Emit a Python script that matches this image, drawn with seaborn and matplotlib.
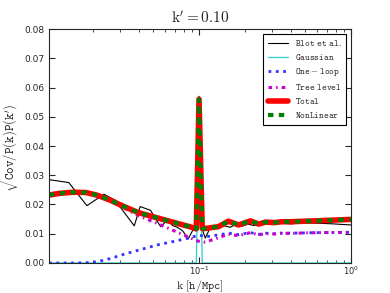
import seaborn as sns
import pandas as pd
import matplotlib.pyplot as plt
from matplotlib.ticker import FuncFormatter
import math

# data
k_model = [0.0103, 0.012, 0.0149, 0.018, 0.0213, 0.026, 0.0321, 0.04, 0.0534, 0.07,
           0.0885, 0.092, 0.096, 0.1, 0.105, 0.11, 0.12, 0.134, 0.156, 0.182,
           0.218, 0.247, 0.275, 0.31, 0.35, 0.4, 0.5, 0.65, 0.8, 1.0]
total = [0.0232, 0.0238, 0.0242, 0.0241, 0.0232, 0.0215, 0.0193, 0.0172, 0.0154, 0.0137,
         0.0123, 0.0120, 0.0117, 0.056, 0.0118, 0.0118, 0.0121, 0.0124, 0.0143, 0.0130,
         0.0144, 0.0133, 0.0140, 0.0138, 0.0141, 0.0141, 0.0143, 0.0145, 0.0147, 0.0149]
tree = [0.0232, 0.0238, 0.0242, 0.0241, 0.0231, 0.0212, 0.0188, 0.0162, 0.0135, 0.0108,
        0.0085, 0.0081, 0.0077, 0.0074, 0.0072, 0.0071, 0.0078, 0.0086, 0.0099, 0.0093,
        0.0104, 0.0096, 0.0101, 0.0099, 0.0102, 0.0101, 0.0103, 0.0104, 0.0104, 0.0105]
one_loop = [0.0, 0.0, 0.0, 0.0001, 0.0004, 0.0015, 0.0030, 0.0044, 0.0062, 0.0075,
            0.0087, 0.0090, 0.0093, 0.0095, 0.0093, 0.0090, 0.0092, 0.0096, 0.0102, 0.0097,
            0.0104, 0.0098, 0.0102, 0.0100, 0.0102, 0.0102, 0.0103, 0.0104, 0.0104, 0.0105]
nonlinear = total

k_blot = [0.0103, 0.0139, 0.0183, 0.0237, 0.028, 0.0375, 0.041, 0.048, 0.052, 0.056,
          0.062, 0.067, 0.072, 0.078, 0.085, 0.091, 0.096, 0.1, 0.105, 0.11,
          0.117, 0.125, 0.135, 0.145, 0.16, 0.175, 0.19, 0.21, 0.23, 0.26,
          0.3, 0.35, 0.4, 0.5, 0.6, 0.75, 1.0]
blot = [0.0285, 0.0275, 0.0196, 0.0235, 0.0215, 0.0127, 0.0193, 0.0180, 0.0150, 0.0124,
        0.0147, 0.0128, 0.0122, 0.0110, 0.0083, 0.0112, 0.0110, 0.057, 0.0115, 0.0085,
        0.0115, 0.0118, 0.0122, 0.0128, 0.0122, 0.0132, 0.0125, 0.0133, 0.0128, 0.0135,
        0.0132, 0.0136, 0.0134, 0.0137, 0.0136, 0.0134, 0.0130]

k_gauss = [0.0103, 0.096, 0.1, 0.105, 1.0]
gauss = [0.0, 0.0, 0.054, 0.0, 0.0]

sns.set_style("ticks")
plt.rcParams['mathtext.fontset'] = 'cm'
plt.rcParams['font.family'] = ['DejaVu Sans']

fig = plt.figure(figsize=(3.9, 2.93), dpi=100)
ax = fig.add_axes([0.1256, 0.1024, 0.7744, 0.7986])

sns.lineplot(x=k_blot, y=blot, ax=ax, color="black", linewidth=0.8,
             label=r"$\mathtt{Blot\ et\ al.}$", sort=False, estimator=None)
sns.lineplot(x=k_gauss, y=gauss, ax=ax, color="#40d0d0", linewidth=1.0,
             label=r"$\mathtt{Gaussian}$", sort=False, estimator=None)
sns.lineplot(x=k_model, y=one_loop, ax=ax, color="#3333ff", linewidth=2.0, linestyle=":",
             label=r"$\mathtt{One-loop}$", sort=False, estimator=None)
sns.lineplot(x=k_model, y=tree, ax=ax, color="#cc00cc", linewidth=2.2,
             linestyle=(0, (1.2, 1.3, 0.5, 1.3)),
             label=r"$\mathtt{Tree\ level}$", sort=False, estimator=None)
sns.lineplot(x=k_model, y=total, ax=ax, color="red", linewidth=4.0,
             label=r"$\mathtt{Total}$", sort=False, estimator=None)
sns.lineplot(x=k_model, y=nonlinear, ax=ax, color="green", linewidth=3.0,
             linestyle=(0, (1.3, 1.3)),
             label=r"$\mathtt{NonLinear}$", sort=False, estimator=None)

ax.set_xscale("log")
ax.set_xlim(0.0103, 1.0)
ax.set_ylim(0, 0.08)
ax.set_yticks([0.0, 0.01, 0.02, 0.03, 0.04, 0.05, 0.06, 0.07, 0.08])
ax.xaxis.set_major_formatter(FuncFormatter(
    lambda v, p: r"$\mathregular{10^{%d}}$" % round(math.log10(v))))
ax.tick_params(which="both", direction="in", top=True, right=True, labelsize=6.5)
ax.tick_params(axis="x", labelsize=6, pad=1)
ax.tick_params(which="major", length=4)
ax.tick_params(which="minor", length=2)
for s in ax.spines.values():
    s.set_linewidth(0.8)

ax.set_title(r"$\mathrm{k'=0.10}$", fontsize=11, pad=4)
ax.set_xlabel(r"$\mathrm{k\ [}\mathtt{h/Mpc}\mathrm{]}$", fontsize=8.5)
ax.xaxis.set_label_coords(0.5, -0.064)
ax.xaxis.label.set_verticalalignment("top")
ax.set_ylabel(r"$\sqrt{\mathtt{Cov/P(k)P(k^{\prime})}}$", fontsize=9, labelpad=2)

leg = ax.legend(loc="upper right", fontsize=6.5, frameon=True, fancybox=False,
                edgecolor="black", framealpha=1, handlelength=2.2, borderpad=0.5,
                labelspacing=0.45)
leg.get_frame().set_linewidth(0.8)

plt.savefig("out.png", dpi=100)
